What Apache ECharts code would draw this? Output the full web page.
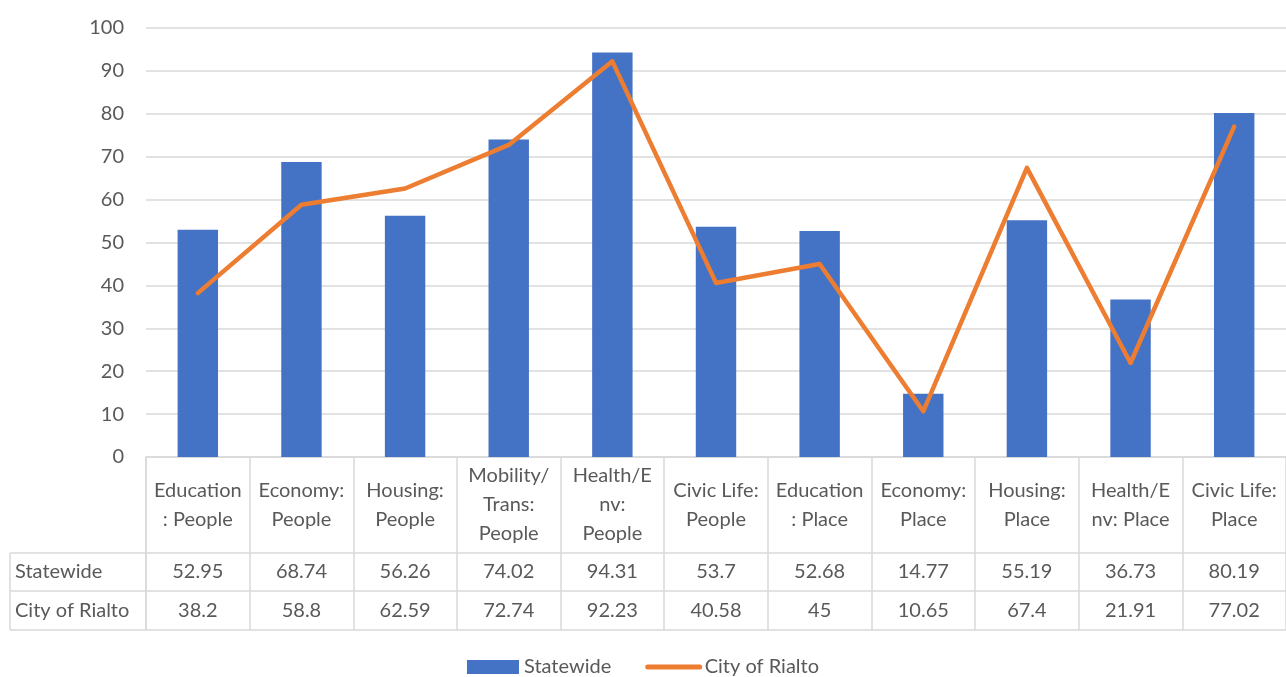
<!DOCTYPE html>
<html>
<head>
<meta charset="utf-8">
<script src="https://cdn.jsdelivr.net/npm/echarts@6/dist/echarts.min.js"></script>
<style>
  html, body { margin: 0; padding: 0; background: #fff; }
  #chart { width: 1286px; height: 677px; }
</style>
</head>
<body>
<div id="chart"></div>
<script>
// Category names and their wrapped header text in the data table
const categories = [
  'Education: People', 'Economy: People', 'Housing: People', 'Mobility/Trans: People',
  'Health/Env: People', 'Civic Life: People', 'Education: Place', 'Economy: Place',
  'Housing: Place', 'Health/Env: Place', 'Civic Life: Place'
];
const categoryLabels = [
  'Education\n: People', 'Economy:\nPeople', 'Housing:\nPeople', 'Mobility/\nTrans:\nPeople',
  'Health/E\nnv:\nPeople', 'Civic Life:\nPeople', 'Education\n: Place', 'Economy:\nPlace',
  'Housing:\nPlace', 'Health/E\nnv: Place', 'Civic Life:\nPlace'
];
const seriesNames = ['Statewide', 'City of Rialto'];
const statewide = [52.95, 68.74, 56.26, 74.02, 94.31, 53.7, 52.68, 14.77, 55.19, 36.73, 80.19];
const rialto = [38.2, 58.8, 62.59, 72.74, 92.23, 40.58, 45, 10.65, 67.4, 21.91, 77.02];
const yTicks = { min: 0, max: 100, interval: 10 };

const FONT = 'Lato, "Open Sans", sans-serif';
const FS = 20;
const TEXT = '#595959';
const RULE = '#d9d9d9';

const chart = echarts.init(document.getElementById('chart'));

const gridLeft = 146, gridTop = 28, gridBottom = 220;
const axisY = 677 - gridBottom;          // baseline of plot / top of table
const rowHeader = axisY + 96;            // bottom of category header row
const rowState = rowHeader + 38;         // bottom of Statewide row
const rowCity = rowState + 39;           // bottom of City row

// Extra category axes used as table rows of values
function valueRow(values, center) {
  return {
    type: 'category', data: categories, position: 'bottom',
    axisLine: { show: false }, axisTick: { show: false },
    axisLabel: {
      interval: 0, margin: center - axisY, verticalAlign: 'middle',
      fontFamily: FONT, fontSize: FS, color: TEXT,
      formatter: (v, i) => String(values[i])
    }
  };
}

chart.setOption({
  animation: false,
  grid: { left: gridLeft, right: 0, top: gridTop, bottom: gridBottom },
  legend: {
    top: 652, left: 'center', itemWidth: 52, itemHeight: 14, itemGap: 34,
    textStyle: { fontFamily: FONT, fontSize: FS, color: TEXT },
    data: [
      { name: seriesNames[0], icon: 'rect' },
      {
        name: seriesNames[1],
        itemStyle: { color: 'rgba(0,0,0,0)', borderColor: 'rgba(0,0,0,0)', borderWidth: 0 },
        lineStyle: { color: '#ED7D31', width: 5, cap: 'round' }
      }
    ]
  },
  xAxis: [
    {
      type: 'category', data: categories, position: 'bottom',
      axisLine: { lineStyle: { color: RULE, width: 1.5 } },
      axisTick: { show: true, inside: false, length: rowCity - axisY, lineStyle: { color: RULE, width: 1.5 }, interval: 0 },
      axisLabel: {
        interval: 0, margin: (rowHeader + axisY) / 2 - axisY, verticalAlign: 'middle',
        lineHeight: 29, fontFamily: FONT, fontSize: FS, color: TEXT,
        formatter: (v, i) => categoryLabels[i]
      }
    },
    valueRow(statewide, (rowHeader + rowState) / 2),
    valueRow(rialto, (rowState + rowCity) / 2)
  ],
  yAxis: {
    type: 'value', min: yTicks.min, max: yTicks.max, interval: yTicks.interval,
    axisLine: { show: false }, axisTick: { show: false },
    axisLabel: { margin: 22, fontFamily: FONT, fontSize: FS, color: TEXT },
    splitLine: { lineStyle: { color: RULE, width: 1.5 } }
  },
  series: [
    {
      name: seriesNames[0], type: 'bar', data: statewide, barWidth: '39%',
      itemStyle: { color: '#4472C4' }
    },
    {
      name: seriesNames[1], type: 'line', data: rialto, symbol: 'none',
      lineStyle: { color: '#ED7D31', width: 4.5, cap: 'round', join: 'round' },
      itemStyle: { color: '#ED7D31' }
    }
  ]
});

// Table borders and the series-name column
const right = chart.getWidth();
const left = 10;
const line = (x1, y1, x2, y2) => ({
  type: 'line', shape: { x1, y1, x2, y2 }, silent: true,
  style: { stroke: RULE, lineWidth: 1.5 }
});
const label = (text, y) => ({
  type: 'text', x: left + 5, y, silent: true,
  style: { text, fontFamily: FONT, fontSize: FS, fill: TEXT, verticalAlign: 'middle' }
});
chart.setOption({
  graphic: [
    line(left, rowHeader, right, rowHeader),
    line(left, rowState, right, rowState),
    line(left, rowCity, right, rowCity),
    line(left, rowHeader, left, rowCity),
    line(gridLeft, axisY, gridLeft, rowCity),
    label(seriesNames[0], (rowHeader + rowState) / 2),
    label(seriesNames[1], (rowState + rowCity) / 2)
  ]
});
</script>
</body>
</html>
